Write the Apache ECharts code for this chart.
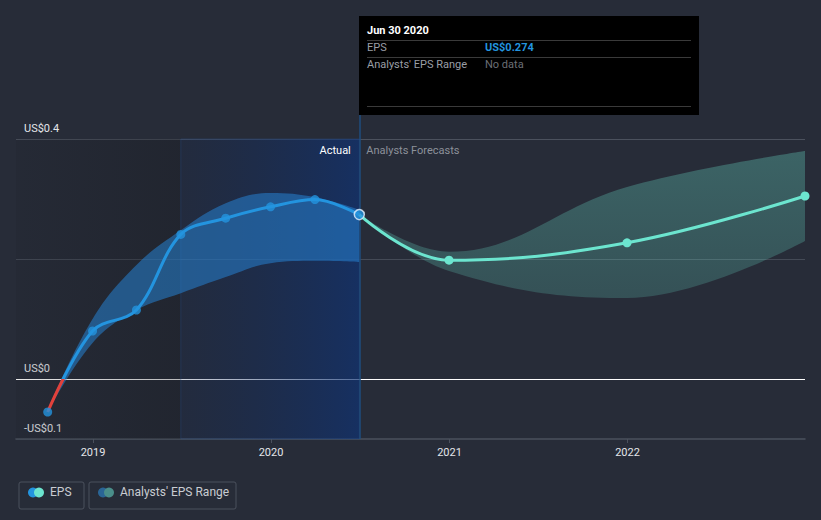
<!DOCTYPE html>
<html>
<head>
<meta charset="utf-8">
<script src="https://cdn.jsdelivr.net/npm/echarts@6/dist/echarts.min.js"></script>
<style>
html,body{margin:0;padding:0;background:#272c38;}
#chart{width:821px;height:520px;}
</style>
</head>
<body>
<div id="chart"></div>
<script>
// ---- data ----
const actualDates = ['2018-09-30','2018-12-31','2019-03-31','2019-06-30','2019-09-30','2019-12-31','2020-03-31','2020-06-30'];
const actualEps   = [-0.055, 0.080, 0.115, 0.241, 0.268, 0.287, 0.299, 0.274];
const actualLow   = [-0.055, 0.060, 0.115, 0.143, 0.170, 0.193, 0.197, 0.195];
const actualHigh  = [-0.052, 0.100, 0.190, 0.248, 0.293, 0.310, 0.303, 0.282];

const forecastDates = ['2020-06-30','2020-12-31','2021-12-31','2022-12-31'];
const forecastEps   = [0.274, 0.198, 0.227, 0.305];
const forecastLow   = [0.274, 0.180, 0.135, 0.230];
const forecastHigh  = [0.274, 0.212, 0.320, 0.380];

const xMin = '2018-07-27';
const xMax = '2022-12-31';
const pastStart = '2019-06-30';
const actualEnd = '2020-06-30';

const xTickYears  = [2019, 2020, 2021, 2022];
const xTickLabels = ['2019','2020','2021','2022'];
const yTickValues = [-0.1, 0, 0.4];
const yTickLabels = ['-US$0.1','US$0','US$0.4'];

const tipTitle = 'Jun 30 2020';
const tipEps = 'US$0.274';
const tipRange = 'No data';

// ---- build ----
const ts = d => new Date(d + 'T00:00:00Z').getTime();
const pairs = (ds, vs) => ds.map((d, i) => [ts(d), vs[i]]);
const diffs = (ds, lo, hi) => ds.map((d, i) => [ts(d), +(hi[i] - lo[i]).toFixed(4)]);
const YEAR = 365 * 24 * 3600 * 1000;

const BLUE = '#2394df', TEAL = '#6ce5cf';
const FONT = 'Roboto, "Noto Sans", sans-serif';

const chart = echarts.init(document.getElementById('chart'), null, {renderer: 'svg'});

const actualPts = pairs(actualDates, actualEps).map((p, i, arr) => i === arr.length - 1
  ? {value: p, symbolSize: 10, itemStyle: {color: BLUE, borderColor: '#e6f2ff', borderWidth: 1.5}}
  : {value: p});
const forecastPts = pairs(forecastDates, forecastEps).map((p, i) => i === 0 ? {value: p, symbolSize: 0} : {value: p});

const yearLabel = v => {
  const d = new Date(v);
  const i = xTickYears.indexOf(d.getUTCFullYear());
  return (i >= 0 && d.getUTCMonth() === 0 && d.getUTCDate() === 1) ? xTickLabels[i] : '';
};

const option = {
  backgroundColor: '#272c38',
  animation: false,
  useUTC: true,
  textStyle: {fontFamily: FONT},
  grid: {left: 16, right: 16, top: 139, bottom: 81, containLabel: false},
  xAxis: {
    type: 'time', min: ts(xMin), max: ts(xMax), minInterval: YEAR,
    axisLine: {show: true, onZero: false, lineStyle: {color: '#4b515d', width: 1.5}},
    axisTick: {show: true, length: 4, lineStyle: {color: '#4b515d'}},
    axisLabel: {color: '#e4e6ea', fontSize: 11, margin: 8, fontFamily: FONT, formatter: yearLabel, showMinLabel: false, showMaxLabel: false},
    splitLine: {show: false}
  },
  yAxis: {
    type: 'value', min: -0.1, max: 0.4, interval: 0.1,
    axisLine: {show: false}, axisTick: {show: false},
    axisLabel: {
      inside: true, color: '#e4e6ea', fontSize: 11, fontFamily: FONT, verticalAlign: 'bottom', padding: [0, 0, 5, 0], margin: 8,
      formatter: v => { const i = yTickValues.findIndex(t => Math.abs(t - v) < 1e-9); return i >= 0 ? yTickLabels[i] : ''; }
    },
    splitLine: {show: true, lineStyle: {color: ['rgba(0,0,0,0)', '#ffffff', 'rgba(0,0,0,0)', '#444a56', 'rgba(0,0,0,0)', '#4b515d'], width: 1}}
  },
  visualMap: {
    show: false, type: 'piecewise', seriesIndex: 4, dimension: 1,
    pieces: [{min: -1, max: 0, color: '#e2413b'}, {min: 0, max: 1, color: BLUE}]
  },
  series: [
    {
      name: 'bandA_base', type: 'line', stack: 'a', stackStrategy: 'all', smooth: 0.4, symbol: 'none', silent: true,
      data: pairs(actualDates, actualLow), lineStyle: {opacity: 0}, z: 1,
      markArea: {
        silent: true,
        data: [
          [{xAxis: ts(xMin), itemStyle: {color: {type: 'linear', x: 0, y: 0, x2: 1, y2: 0, colorStops: [{offset: 0, color: 'rgba(20,22,28,0.10)'}, {offset: 1, color: 'rgba(20,22,28,0.30)'}]}}}, {xAxis: ts(pastStart)}],
          [{xAxis: ts(pastStart), label: {show: true, position: 'insideTopRight', formatter: 'Actual', color: '#ffffff', fontSize: 11, fontFamily: FONT, distance: 0, padding: [6, 9, 0, 0]},
            itemStyle: {color: {type: 'linear', x: 0, y: 0, x2: 1, y2: 0, colorStops: [{offset: 0, color: 'rgba(18,40,85,0.20)'}, {offset: 1, color: 'rgba(15,50,115,0.70)'}]}, borderColor: 'rgba(40,80,140,0.35)', borderWidth: 1}},
           {xAxis: ts(actualEnd)}],
          [{xAxis: ts(actualEnd), label: {show: true, position: 'insideTopLeft', formatter: 'Analysts Forecasts', color: '#8c919a', fontSize: 11, fontFamily: FONT, distance: 0, padding: [6, 0, 0, 7]}, itemStyle: {color: 'rgba(0,0,0,0)'}}, {xAxis: ts(xMax)}]
        ]
      },
      markLine: {
        silent: true, symbol: 'none', label: {show: false},
        lineStyle: {color: '#1f4d7e', width: 1.5, type: 'solid'},
        data: [{xAxis: ts(actualEnd)}]
      }
    },
    {
      name: 'bandA', type: 'line', stack: 'a', stackStrategy: 'all', smooth: 0.4, symbol: 'none', silent: true,
      data: diffs(actualDates, actualLow, actualHigh), lineStyle: {opacity: 0}, z: 2,
      areaStyle: {color: 'rgba(38,130,210,0.55)', opacity: 1}
    },
    {
      name: 'bandF_base', type: 'line', stack: 'f', stackStrategy: 'all', smooth: 0.4, symbol: 'none', silent: true,
      data: pairs(forecastDates, forecastLow), lineStyle: {opacity: 0}, z: 1
    },
    {
      name: 'bandF', type: 'line', stack: 'f', stackStrategy: 'all', smooth: 0.4, symbol: 'none', silent: true,
      data: diffs(forecastDates, forecastLow, forecastHigh), lineStyle: {opacity: 0}, z: 2,
      areaStyle: {color: {type: 'linear', x: 0, y: 0, x2: 0, y2: 1, colorStops: [{offset: 0, color: 'rgba(108,229,207,0.30)'}, {offset: 1, color: 'rgba(108,229,207,0.20)'}]}, opacity: 1}
    },
    {
      name: 'EPS', type: 'line', smooth: 0.35, showSymbol: false, symbol: 'none',
      data: pairs(actualDates, actualEps), lineStyle: {width: 3}, z: 5
    },
    {
      name: 'EPS points', type: 'scatter', data: actualPts, symbolSize: 9,
      itemStyle: {color: BLUE}, z: 6
    },
    {
      name: 'EPS forecast', type: 'line', smooth: 0.4, data: forecastPts, symbol: 'circle', symbolSize: 9,
      lineStyle: {color: TEAL, width: 3}, itemStyle: {color: TEAL}, z: 5
    }
  ],
  graphic: [
    {type: 'rect', left: 359, top: 16, shape: {width: 340, height: 99}, style: {fill: '#000000'}, z: 100},
    {type: 'line', shape: {x1: 360, y1: 115, x2: 360, y2: 139}, style: {stroke: '#1f4d7e', lineWidth: 1.5}, z: 100},
    {type: 'text', left: 367, top: 25, style: {text: tipTitle, fill: '#ffffff', font: 'bold 11px ' + FONT}, z: 101},
    {type: 'line', shape: {x1: 367, y1: 40.5, x2: 691, y2: 40.5}, style: {stroke: '#3a3a3a', lineWidth: 1}, z: 101},
    {type: 'text', left: 367, top: 42, style: {text: 'EPS', fill: '#9a9ea6', font: '11px ' + FONT}, z: 101},
    {type: 'text', left: 485, top: 42, style: {text: tipEps, fill: BLUE, font: 'bold 11px ' + FONT}, z: 101},
    {type: 'line', shape: {x1: 367, y1: 57.5, x2: 691, y2: 57.5}, style: {stroke: '#3a3a3a', lineWidth: 1}, z: 101},
    {type: 'text', left: 367, top: 59, style: {text: "Analysts' EPS Range", fill: '#9a9ea6', font: '11px ' + FONT}, z: 101},
    {type: 'text', left: 485, top: 59, style: {text: tipRange, fill: '#6b6f76', font: '11px ' + FONT}, z: 101},
    {type: 'line', shape: {x1: 367, y1: 106.5, x2: 691, y2: 106.5}, style: {stroke: '#3a3a3a', lineWidth: 1}, z: 101},
    {type: 'rect', left: 16.5, top: 479.5, shape: {width: 65, height: 27, r: 2}, style: {fill: 'none', stroke: '#4b515d', lineWidth: 1}, z: 100},
    {type: 'circle', shape: {cx: 33, cy: 492.5, r: 5}, style: {fill: BLUE}, z: 101},
    {type: 'circle', shape: {cx: 39, cy: 492.5, r: 5}, style: {fill: TEAL}, z: 102},
    {type: 'text', left: 50, top: 486, style: {text: 'EPS', fill: '#c9ccd2', font: '12px ' + FONT}, z: 101},
    {type: 'rect', left: 86.5, top: 479.5, shape: {width: 147, height: 27, r: 2}, style: {fill: 'none', stroke: '#4b515d', lineWidth: 1}, z: 100},
    {type: 'circle', shape: {cx: 103, cy: 492.5, r: 5}, style: {fill: '#2a6596'}, z: 101},
    {type: 'circle', shape: {cx: 109, cy: 492.5, r: 5}, style: {fill: '#4a8e8a'}, z: 102},
    {type: 'text', left: 120, top: 486, style: {text: "Analysts' EPS Range", fill: '#c9ccd2', font: '12px ' + FONT}, z: 101}
  ]
};
chart.setOption(option);
</script>
</body>
</html>
